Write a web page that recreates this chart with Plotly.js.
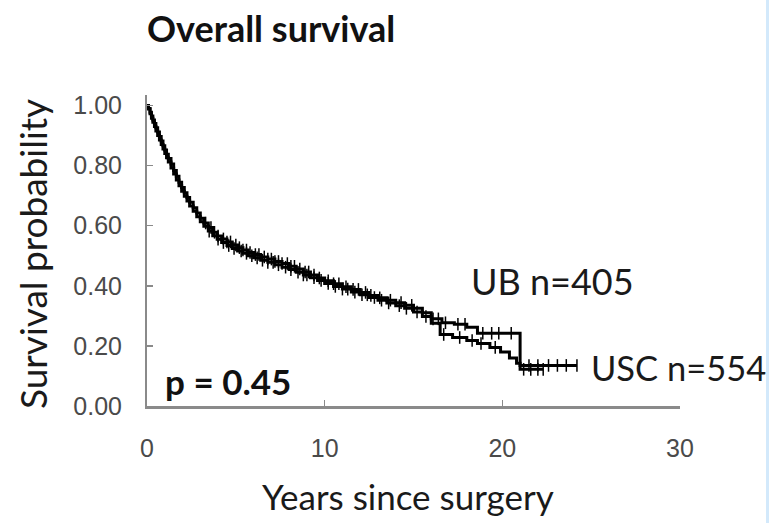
<!DOCTYPE html>
<html>
<head>
<meta charset="utf-8">
<script src="https://cdn.plot.ly/plotly-3.0.1.min.js"></script>
<style>
  html, body { margin: 0; padding: 0; background: #ffffff; }
  #chart { width: 769px; height: 523px; }
</style>
</head>
<body>
<div id="chart"></div>
<script>
// Kaplan-Meier estimates, overall survival by group
const ubTimes = [0, 0.08, 0.17, 0.25, 0.33, 0.42, 0.5, 0.6, 0.7, 0.8, 0.9, 1.0, 1.1, 1.2, 1.35, 1.5, 1.65, 1.8, 1.95, 2.1, 2.25, 2.4, 2.6, 2.8, 3.0, 3.2, 3.45, 3.7, 3.95, 4.2, 4.5, 4.8, 5.1, 5.4, 5.7, 6.0, 6.4, 6.8, 7.2, 7.6, 8.0, 8.4, 8.8, 9.2, 9.6, 10.0, 10.5, 11.0, 11.5, 12.0, 12.5, 13.0, 13.5, 14.0, 14.5, 15.0, 15.5, 16.0, 16.6, 17.3, 18.0, 18.6, 21.0, 24.2];
const ubSurv = [1.0, 0.99, 0.978, 0.965, 0.952, 0.94, 0.926, 0.912, 0.897, 0.882, 0.866, 0.852, 0.838, 0.824, 0.805, 0.784, 0.765, 0.745, 0.727, 0.71, 0.694, 0.678, 0.66, 0.642, 0.625, 0.609, 0.594, 0.578, 0.566, 0.556, 0.546, 0.536, 0.527, 0.519, 0.511, 0.504, 0.496, 0.489, 0.481, 0.474, 0.465, 0.456, 0.446, 0.436, 0.426, 0.417, 0.407, 0.397, 0.388, 0.378, 0.368, 0.36, 0.352, 0.344, 0.335, 0.325, 0.31, 0.29, 0.277, 0.272, 0.262, 0.242, 0.135, 0.135];
const ubCensored = [3.3, 3.6, 3.8, 4.0, 4.3, 4.5, 4.7, 5.0, 5.2, 5.4, 5.6, 5.8, 6.1, 6.3, 6.6, 6.8, 7.0, 7.2, 7.4, 7.6, 7.9, 8.1, 8.3, 8.6, 8.9, 9.1, 9.4, 9.7, 10.2, 10.5, 10.8, 11.2, 11.6, 11.9, 12.3, 12.6, 13.1, 13.7, 14.3, 14.9, 16.1, 16.4, 16.8, 17.5, 17.9, 18.9, 19.4, 19.8, 20.5, 21.5, 22.0, 22.6, 23.1, 23.6, 24.2];

const uscTimes = [0, 0.08, 0.17, 0.25, 0.33, 0.42, 0.5, 0.6, 0.7, 0.8, 0.9, 1.0, 1.1, 1.2, 1.35, 1.5, 1.65, 1.8, 1.95, 2.1, 2.25, 2.4, 2.6, 2.8, 3.0, 3.2, 3.45, 3.7, 3.95, 4.2, 4.5, 4.8, 5.1, 5.4, 5.7, 6.0, 6.4, 6.8, 7.2, 7.6, 8.0, 8.4, 8.8, 9.2, 9.6, 10.0, 10.5, 11.0, 11.5, 12.0, 12.5, 13.0, 13.5, 14.0, 14.5, 15.0, 15.5, 16.0, 16.5, 17.2, 18.0, 18.6, 19.3, 19.9, 20.4, 20.8, 21.0, 22.3];
const uscSurv = [1.0, 0.988, 0.973, 0.958, 0.944, 0.93, 0.915, 0.9, 0.885, 0.87, 0.855, 0.84, 0.826, 0.812, 0.792, 0.772, 0.752, 0.733, 0.715, 0.698, 0.682, 0.666, 0.648, 0.63, 0.613, 0.598, 0.582, 0.567, 0.555, 0.544, 0.534, 0.524, 0.516, 0.508, 0.5, 0.493, 0.485, 0.478, 0.47, 0.462, 0.454, 0.445, 0.436, 0.427, 0.418, 0.408, 0.398, 0.389, 0.379, 0.37, 0.361, 0.352, 0.343, 0.334, 0.325, 0.313, 0.298, 0.275, 0.238, 0.228, 0.218, 0.208, 0.195, 0.18, 0.16, 0.142, 0.122, 0.122];
const uscCensored = [3.5, 4.0, 4.3, 4.6, 4.9, 5.3, 5.6, 5.9, 6.2, 6.5, 6.8, 7.1, 7.4, 7.8, 8.1, 8.5, 8.8, 9.0, 9.4, 9.8, 10.2, 10.6, 11.0, 11.3, 11.7, 12.1, 12.4, 12.8, 13.2, 13.6, 14.2, 14.6, 15.2, 15.7, 16.7, 17.6, 18.3, 18.8, 19.6, 21.2, 21.6, 22.0, 22.3];

const xTicks = [0, 10, 20, 30];
const yTicks = [0, 0.2, 0.4, 0.6, 0.8, 1.0];
const yTickText = ['0.00', '0.20', '0.40', '0.60', '0.80', '1.00'];

const groupLabels = ['UB n=405', 'USC n=554'];
const pValueText = 'p = 0.45';

// Value of a right-continuous step function at time t
function stepValue(times, surv, t) {
  let v = surv[0];
  for (let i = 0; i < times.length; i++) {
    if (times[i] <= t) v = surv[i]; else break;
  }
  return v;
}

function curve(times, surv) {
  return {
    x: times, y: surv, type: 'scatter', mode: 'lines',
    line: { shape: 'hv', color: '#000000', width: 3 },
    hoverinfo: 'skip', showlegend: false
  };
}

function censorMarks(times, surv, cens) {
  return {
    x: cens, y: cens.map(t => stepValue(times, surv, t)),
    type: 'scatter', mode: 'markers',
    marker: { symbol: 'line-ns-open', size: 9, color: '#000000',
              line: { color: '#000000', width: 1.5 } },
    hoverinfo: 'skip', showlegend: false
  };
}

const data = [
  curve(uscTimes, uscSurv),
  curve(ubTimes, ubSurv),
  censorMarks(uscTimes, uscSurv, uscCensored),
  censorMarks(ubTimes, ubSurv, ubCensored)
];

const calibriLike = 'Lato, "Open Sans", sans-serif';
const tickFont = { family: '"Liberation Sans", Arial, sans-serif', size: 25, color: '#4a4a4a' };

const layout = {
  width: 769, height: 523,
  margin: { l: 147, r: 89, t: 95, b: 117 },
  paper_bgcolor: '#ffffff', plot_bgcolor: '#ffffff',
  title: {
    text: '<b>Overall survival</b>',
    font: { family: calibriLike, size: 36, color: '#111111' },
    xref: 'paper', x: 0, xanchor: 'left',
    yref: 'container', y: 0.943, yanchor: 'middle'
  },
  xaxis: {
    range: [0, 30], tickvals: xTicks, ticktext: xTicks.map(String),
    showgrid: false, zeroline: false,
    showline: true, linecolor: '#8a8a8a', linewidth: 2.5,
    ticks: 'inside', ticklen: 6, tickwidth: 1.5, tickcolor: '#8a8a8a',
    tickfont: tickFont, ticklabelstandoff: 18,
    fixedrange: true
  },
  yaxis: {
    range: [0, 1.035], tickvals: yTicks, ticktext: yTickText,
    showgrid: false, zeroline: false,
    showline: true, linecolor: '#8a8a8a', linewidth: 2,
    ticks: 'inside', ticklen: 6, tickwidth: 1.5, tickcolor: '#8a8a8a',
    tickfont: tickFont, ticklabelstandoff: 18,
    fixedrange: true
  },
  annotations: [
    { text: 'Survival probability', textangle: -90, showarrow: false,
      xref: 'paper', yref: 'paper', x: -0.215, y: 0.49, xanchor: 'center', yanchor: 'middle',
      font: { family: calibriLike, size: 37, color: '#1a1a1a' } },
    { text: 'Years since surgery', showarrow: false,
      xref: 'paper', yref: 'paper', x: 0.49, y: -0.29, xanchor: 'center', yanchor: 'middle',
      font: { family: calibriLike, size: 35, color: '#1a1a1a' } },
    { text: groupLabels[0], showarrow: false, xref: 'x', yref: 'y', x: 22.8, y: 0.415,
      xanchor: 'center', yanchor: 'middle',
      font: { family: calibriLike, size: 36, color: '#1a1a1a' } },
    { text: groupLabels[1], showarrow: false, xref: 'x', yref: 'y', x: 29.9, y: 0.128,
      xanchor: 'center', yanchor: 'middle',
      font: { family: calibriLike, size: 34.5, color: '#1a1a1a' } },
    { text: '<b>' + pValueText + '</b>', showarrow: false, xref: 'x', yref: 'y', x: 4.56, y: 0.083,
      xanchor: 'center', yanchor: 'middle',
      font: { family: calibriLike, size: 35, color: '#111111' } }
  ],
  shapes: [
    { type: 'rect', xref: 'paper', yref: 'paper',
      x0: (766 - 147) / 533, x1: (770 - 147) / 533, y0: -0.4, y1: 1.35,
      fillcolor: '#d3e9fb', line: { width: 0 }, layer: 'below' }
  ]
};

Plotly.newPlot('chart', data, layout, { displayModeBar: false, staticPlot: true });
</script>
</body>
</html>
